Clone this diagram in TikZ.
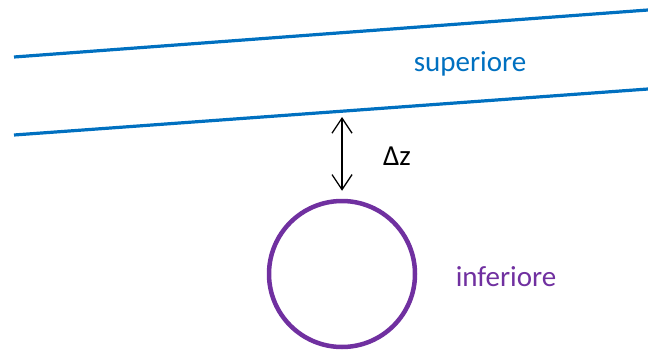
\documentclass[tikz,border=0pt]{standalone}
\usepackage{fontspec}
\setmainfont{Carlito}
\usetikzlibrary{arrows.meta}
\definecolor{supblue}{RGB}{0,112,192}
\definecolor{infpurple}{RGB}{112,48,160}
\begin{document}
\begin{tikzpicture}[x=1pt, y=-1pt,
  layer/.style={draw=supblue, line width=3.2pt},
  label/.style={font=\fontsize{29}{34}\selectfont, inner sep=0pt},
  gap/.style={{Straight Barb[length=15pt,width=20pt]}-{Straight Barb[length=15pt,width=20pt]}, line width=1.3pt}
]
\useasboundingbox (0,0) rectangle (648,351);
\draw[layer] (14,57) -- (648,10);
\draw[layer] (14,135) -- (648,89);
\node[draw=infpurple, line width=4.5pt, circle, minimum size=146pt, inner sep=0pt] (inf) at (342,274) {};
\coordinate (top) at (342,117);
\draw[gap] (top) -- ([yshift=8pt]inf.north);
\node[label] (dz) at (397,156) {Δz};
\node[label, text=supblue] (sup) at (470,64) {superiore};
\node[label, text=infpurple] (inflab) at (506,277) {inferiore};
\end{tikzpicture}
\end{document}
